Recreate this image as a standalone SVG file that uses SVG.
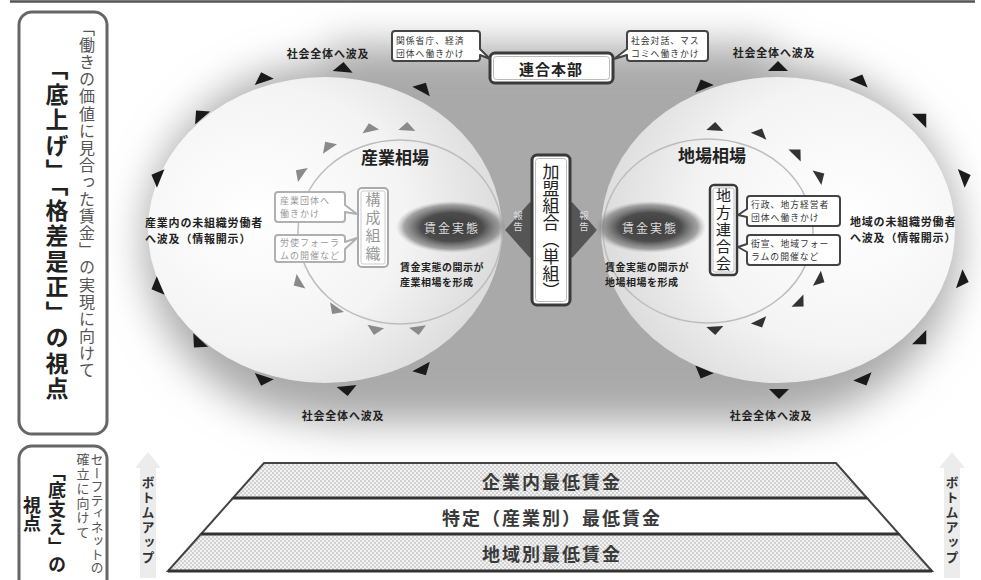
<svg xmlns="http://www.w3.org/2000/svg" width="981" height="580" viewBox="0 0 981 580">
<defs>
<style>
text{font-family:'Noto Sans CJK JP','Noto Sans CJK SC',sans-serif;}
.v{writing-mode:vertical-rl;}
.lbl{font-size:11px;font-weight:bold;fill:#222;letter-spacing:0.8px;}
.co{fill:#fff;stroke:#444;stroke-width:2;stroke-linejoin:round;}
.cog{fill:#fff;stroke:#b0b0b0;stroke-width:2;stroke-linejoin:round;}
.cot{font-size:8.8px;fill:#333;letter-spacing:1px;}
.cogt{font-size:9px;fill:#9a9a9a;letter-spacing:1px;}
.txt{font-size:10px;font-weight:bold;fill:#222;letter-spacing:0.5px;}
.tri{fill:#1a1a1a;}
.trig{fill:#8a8a8a;}
.trid{fill:#333;}
.layer{stroke:#444;stroke-width:2;}
.lt{font-size:18px;font-weight:bold;fill:#3a3a3a;letter-spacing:2px;text-anchor:middle;dominant-baseline:central;}
.panel{fill:#fff;stroke:#666;stroke-width:3;}
.bu{font-size:13px;font-weight:bold;fill:#333;letter-spacing:2px;}
.blobt{font-size:12px;fill:#ddd;letter-spacing:2px;text-anchor:middle;dominant-baseline:central;}
</style>
<path id="tr" d="M-10,4 L10,4 L0,-6 Z"/>
<path id="tri2" d="M-8.5,3.5 L8.5,3.5 L0,-5 Z"/>
<filter id="soft" x="-30%" y="-30%" width="160%" height="160%"><feGaussianBlur stdDeviation="20"/></filter>
<radialGradient id="gL" cx="0.3" cy="0.45" r="0.85">
<stop offset="0" stop-color="#ffffff"/><stop offset="0.5" stop-color="#f4f4f4"/><stop offset="1" stop-color="#cfcfcf"/>
</radialGradient>
<radialGradient id="gR" cx="0.7" cy="0.45" r="0.85">
<stop offset="0" stop-color="#ffffff"/><stop offset="0.5" stop-color="#f4f4f4"/><stop offset="1" stop-color="#cfcfcf"/>
</radialGradient>
<radialGradient id="blob">
<stop offset="0" stop-color="#3c3c3c"/><stop offset="0.55" stop-color="#4c4c4c"/><stop offset="0.85" stop-color="#808080" stop-opacity="0.7"/><stop offset="1" stop-color="#aaa" stop-opacity="0"/>
</radialGradient>
<pattern id="dots" width="4" height="4" patternUnits="userSpaceOnUse"><rect width="4" height="4" fill="#f2f2f2"/><circle cx="1" cy="1" r="0.7" fill="#9a9a9a"/><circle cx="3" cy="3" r="0.7" fill="#9a9a9a"/></pattern>
</defs>

<rect width="981" height="580" fill="#fff"/>
<line x1="10" y1="1.5" x2="975" y2="1.5" stroke="#555" stroke-width="2.5"/>

<!-- left panels -->
<g id="panel-sokoage">
<rect class="panel" x="19" y="12" width="88" height="422" rx="13"/>
<text class="v" x="87" y="20" style="font-size:16px;fill:#555;letter-spacing:1.1px;">「働きの価値に見合った賃金」の実現に向けて</text>
<text class="v" x="57" y="57" style="font-size:23px;font-weight:bold;fill:#222;letter-spacing:2.5px;">「底上げ」「格差是正」の視点</text>
</g>
<g id="panel-sasae">
<rect class="panel" x="19" y="446" width="88" height="150" rx="13"/>
<text class="v" x="97" y="453" style="font-size:13px;fill:#555;letter-spacing:0.5px;">セーフティネットの</text>
<text class="v" x="83" y="453" style="font-size:13px;fill:#555;letter-spacing:1.5px;">確立に向けて</text>
<text class="v" x="57" y="463" style="font-size:18px;font-weight:bold;fill:#222;letter-spacing:0.5px;">「底支え」の</text>
<text class="v" x="32" y="496" style="font-size:18px;font-weight:bold;fill:#222;">視点</text>
</g>

<!-- background -->
<g id="background">
<g filter="url(#soft)" fill="#a9a9a9">
<ellipse cx="330" cy="242" rx="185" ry="178"/>
<ellipse cx="773" cy="242" rx="185" ry="178"/>
<rect x="330" y="45" width="443" height="378"/>
</g>
<ellipse cx="325" cy="230" rx="177" ry="153" fill="url(#gL)"/>
<ellipse cx="778" cy="230" rx="177" ry="153" fill="url(#gR)"/>
<ellipse cx="400" cy="232" rx="102" ry="92" fill="none" stroke="#bdbdbd" stroke-width="1.5"/>
<ellipse cx="708" cy="231" rx="105" ry="92" fill="none" stroke="#bdbdbd" stroke-width="1.5"/>
</g>

<!-- ripple arrows -->
<g id="connectors">
<g class="tri">
<use href="#tr" transform="translate(157,177) rotate(-68)"/>
<use href="#tr" transform="translate(200,115) rotate(-41)"/>
<use href="#tr" transform="translate(263,78) rotate(-18)"/>
<use href="#tr" transform="translate(343,68) rotate(5)"/>
<use href="#tr" transform="translate(423,88) rotate(29)"/>
<use href="#tr" transform="translate(157,287) rotate(-113)"/>
<use href="#tr" transform="translate(198,343) rotate(-138)"/>
<use href="#tr" transform="translate(263,380) rotate(-162)"/>
<use href="#tr" transform="translate(347,390) rotate(174)"/>
<use href="#tr" transform="translate(423,370) rotate(151)"/>
<use href="#tr" transform="translate(703,85) rotate(-22)"/>
<use href="#tr" transform="translate(778,67) rotate(0)"/>
<use href="#tr" transform="translate(860,80) rotate(23)"/>
<use href="#tr" transform="translate(922,118) rotate(45)"/>
<use href="#tr" transform="translate(965,177) rotate(70)"/>
<use href="#tr" transform="translate(963,280) rotate(109)"/>
<use href="#tr" transform="translate(922,340) rotate(135)"/>
<use href="#tr" transform="translate(864,380) rotate(156)"/>
<use href="#tr" transform="translate(779,393) rotate(180)"/>
<use href="#tr" transform="translate(703,373) rotate(-157)"/>
</g>
<g class="trig">
<use href="#tri2" transform="translate(370,128) rotate(-13)"/>
<use href="#tri2" transform="translate(407,127) rotate(3)"/>
<use href="#tri2" transform="translate(328,146) rotate(-34)"/>
<use href="#tri2" transform="translate(300,173) rotate(-55)"/>
<use href="#tri2" transform="translate(298,283) rotate(-121)"/>
<use href="#tri2" transform="translate(335,310) rotate(-145)"/>
<use href="#tri2" transform="translate(375,330) rotate(-168)"/>
<use href="#tri2" transform="translate(418,330) rotate(172)"/>
</g>
<g class="trid">
<use href="#tri2" transform="translate(715,127) rotate(3)"/>
<use href="#tri2" transform="translate(760,133) rotate(24)"/>
<use href="#tri2" transform="translate(797,153) rotate(44)"/>
<use href="#tri2" transform="translate(820,176) rotate(59)"/>
<use href="#tri2" transform="translate(820,280) rotate(118)"/>
<use href="#tri2" transform="translate(800,303) rotate(134)"/>
<use href="#tri2" transform="translate(760,323) rotate(155)"/>
<use href="#tri2" transform="translate(715,330) rotate(177)"/>
</g>
</g>

<!-- ripple labels -->
<g id="ripple-labels" class="lbl">
<text x="328" y="53" text-anchor="middle" dominant-baseline="central">社会全体へ波及</text>
<text x="774" y="52" text-anchor="middle" dominant-baseline="central">社会全体へ波及</text>
<text x="343" y="415" text-anchor="middle" dominant-baseline="central">社会全体へ波及</text>
<text x="771" y="415" text-anchor="middle" dominant-baseline="central">社会全体へ波及</text>
<text x="145" y="222" dominant-baseline="central">産業内の未組織労働者</text>
<text x="145" y="238" dominant-baseline="central">へ波及（情報開示）</text>
<text x="850" y="221" dominant-baseline="central">地域の未組織労働者</text>
<text x="850" y="237" dominant-baseline="central">へ波及（情報開示）</text>
</g>

<!-- Rengo HQ -->
<g id="rengo-honbu">
<rect x="490" y="53" width="123" height="30" rx="5" fill="#fff" stroke="#3a3a3a" stroke-width="3"/>
<rect x="493.5" y="56.5" width="116" height="23" rx="3" fill="none" stroke="#bbb" stroke-width="1"/>
<text x="551" y="68" text-anchor="middle" dominant-baseline="central" style="font-size:15px;font-weight:bold;fill:#222;letter-spacing:1px;">連合本部</text>
</g>
<g id="callout-kankei">
<path class="co" d="M395,31 H477 Q480,31 480,34 V49 L490,59 L480,55 V58 Q480,61 477,61 H395 Q392,61 392,58 V34 Q392,31 395,31 Z"/>
<text class="cot" x="396" y="40" dominant-baseline="central">関係省庁、経済</text>
<text class="cot" x="396" y="53" dominant-baseline="central">団体へ働きかけ</text>
</g>
<g id="callout-shakai">
<path class="co" d="M630,31 H705 Q708,31 708,34 V58 Q708,61 705,61 H630 Q627,61 627,58 V55 L614,59 L627,49 V34 Q627,31 630,31 Z"/>
<text class="cot" x="631" y="40" dominant-baseline="central">社会対話、マス</text>
<text class="cot" x="631" y="53" dominant-baseline="central">コミへ働きかけ</text>
</g>

<!-- industry side -->
<g id="sangyo-soba">
<text x="395" y="156" text-anchor="middle" dominant-baseline="central" style="font-size:17px;font-weight:bold;fill:#222;">産業相場</text>
</g>
<g id="kosei-soshiki">
<rect x="358" y="188" width="30" height="79" rx="4" fill="#fff" stroke="#aaa" stroke-width="2"/>
<rect x="361" y="191" width="24" height="73" rx="2" fill="none" stroke="#ccc" stroke-width="1"/>
<text class="v" x="373" y="192" style="font-size:15px;fill:#999;letter-spacing:3px;">構成組織</text>
</g>
<g id="callout-sangyo">
<path class="cog" d="M278,192 H342 Q345,192 345,195 V205 L357,214 L345,212 V219 Q345,222 342,222 H278 Q275,222 275,219 V195 Q275,192 278,192 Z"/>
<text class="cogt" x="280" y="200" dominant-baseline="central">産業団体へ</text>
<text class="cogt" x="280" y="213" dominant-baseline="central">働きかけ</text>
</g>
<g id="callout-roshi">
<path class="cog" d="M278,235 H342 Q345,235 345,238 V242 L357,238 L345,249 V259 Q345,262 342,262 H278 Q275,262 275,259 V238 Q275,235 278,235 Z"/>
<text class="cogt" x="280" y="242" dominant-baseline="central">労使フォーラ</text>
<text class="cogt" x="280" y="255" dominant-baseline="central">ムの開催など</text>
</g>
<g id="chingin-left">
<ellipse cx="452" cy="227" rx="56" ry="26" fill="url(#blob)"/>
<text class="blobt" x="452" y="227">賃金実態</text>
<text class="txt" x="400" y="266" dominant-baseline="central">賃金実態の開示が</text>
<text class="txt" x="400" y="281" dominant-baseline="central">産業相場を形成</text>
</g>

<!-- center union -->
<g id="report-left">
<polygon points="505,230 530,202 555,230 530,258" fill="#555"/>
<text class="v" x="518" y="211" style="font-size:9.5px;fill:#ddd;letter-spacing:1px;">報告</text>
</g>
<g id="report-right">
<polygon points="547,230 572,202 597,230 572,258" fill="#555"/>
<text class="v" x="584" y="211" style="font-size:9.5px;fill:#ddd;letter-spacing:1px;">報告</text>
</g>
<g id="kamei-kumiai">
<rect x="532" y="155" width="38" height="150" rx="5" fill="#fff" stroke="#3a3a3a" stroke-width="3"/>
<rect x="535.5" y="158.5" width="31" height="143" rx="3" fill="none" stroke="#bbb" stroke-width="1"/>
<text class="v" x="551" y="163" style="font-size:17px;fill:#222;">加盟組合（単組）</text>
</g>

<!-- local side -->
<g id="jiba-soba">
<text x="712" y="154" text-anchor="middle" dominant-baseline="central" style="font-size:17px;font-weight:bold;fill:#222;">地場相場</text>
</g>
<g id="chingin-right">
<ellipse cx="650" cy="227" rx="56" ry="26" fill="url(#blob)"/>
<text class="blobt" x="650" y="227">賃金実態</text>
<text class="txt" x="605" y="266" dominant-baseline="central">賃金実態の開示が</text>
<text class="txt" x="605" y="281" dominant-baseline="central">地場相場を形成</text>
</g>
<g id="chiho-rengokai">
<rect x="710" y="185" width="27" height="90" rx="4" fill="#fff" stroke="#3a3a3a" stroke-width="2.5"/>
<rect x="713" y="188" width="21" height="84" rx="2" fill="none" stroke="#bbb" stroke-width="1"/>
<text class="v" x="723.5" y="188" style="font-size:15px;fill:#222;letter-spacing:2px;">地方連合会</text>
</g>
<g id="callout-gyosei">
<path class="co" d="M750,196 H837 Q840,196 840,199 V223 Q840,226 837,226 H750 Q747,226 747,223 V217 L738,215 L747,209 V199 Q747,196 750,196 Z"/>
<text class="cot" x="751" y="204" dominant-baseline="central">行政、地方経営者</text>
<text class="cot" x="751" y="217" dominant-baseline="central">団体へ働きかけ</text>
</g>
<g id="callout-gaisen">
<path class="co" d="M750,235 H837 Q840,235 840,238 V262 Q840,265 837,265 H750 Q747,265 747,262 V252 L738,247 L747,244 V238 Q747,235 750,235 Z"/>
<text class="cot" x="751" y="243" dominant-baseline="central">街宣、地域フォー</text>
<text class="cot" x="751" y="256" dominant-baseline="central">ラムの開催など</text>
</g>

<!-- bottom up arrows -->
<g id="bottomup-left">
<polygon points="148,452 161,468 156,468 156,578 140,578 140,468 135,468" fill="#ececec"/>
<text class="v bu" x="148" y="476">ボトムアップ</text>
</g>
<g id="bottomup-right">
<polygon points="952,452 965,468 960,468 960,578 944,578 944,468 939,468" fill="#ececec"/>
<text class="v bu" x="952" y="476">ボトムアップ</text>
</g>

<!-- minimum wage pyramid -->
<g id="kigyonai">
<polygon class="layer" points="264,463 836,463 867,498 233,498" fill="url(#dots)"/>
<text class="lt" x="552" y="481">企業内最低賃金</text>
</g>
<g id="tokutei">
<polygon class="layer" points="233,498 867,498 899,534 201,534" fill="#fff"/>
<text class="lt" x="552" y="517">特定（産業別）最低賃金</text>
</g>
<g id="chiikibetsu">
<polygon class="layer" points="201,534 899,534 932,571 168,571" fill="url(#dots)"/>
<text class="lt" x="552" y="553">地域別最低賃金</text>
</g>
<g id="pyramid-lines" stroke="#333" stroke-width="3">
<line x1="233" y1="498" x2="867" y2="498"/>
<line x1="201" y1="534" x2="899" y2="534"/>
<line x1="168" y1="571" x2="932" y2="571"/>
</g>
</svg>
